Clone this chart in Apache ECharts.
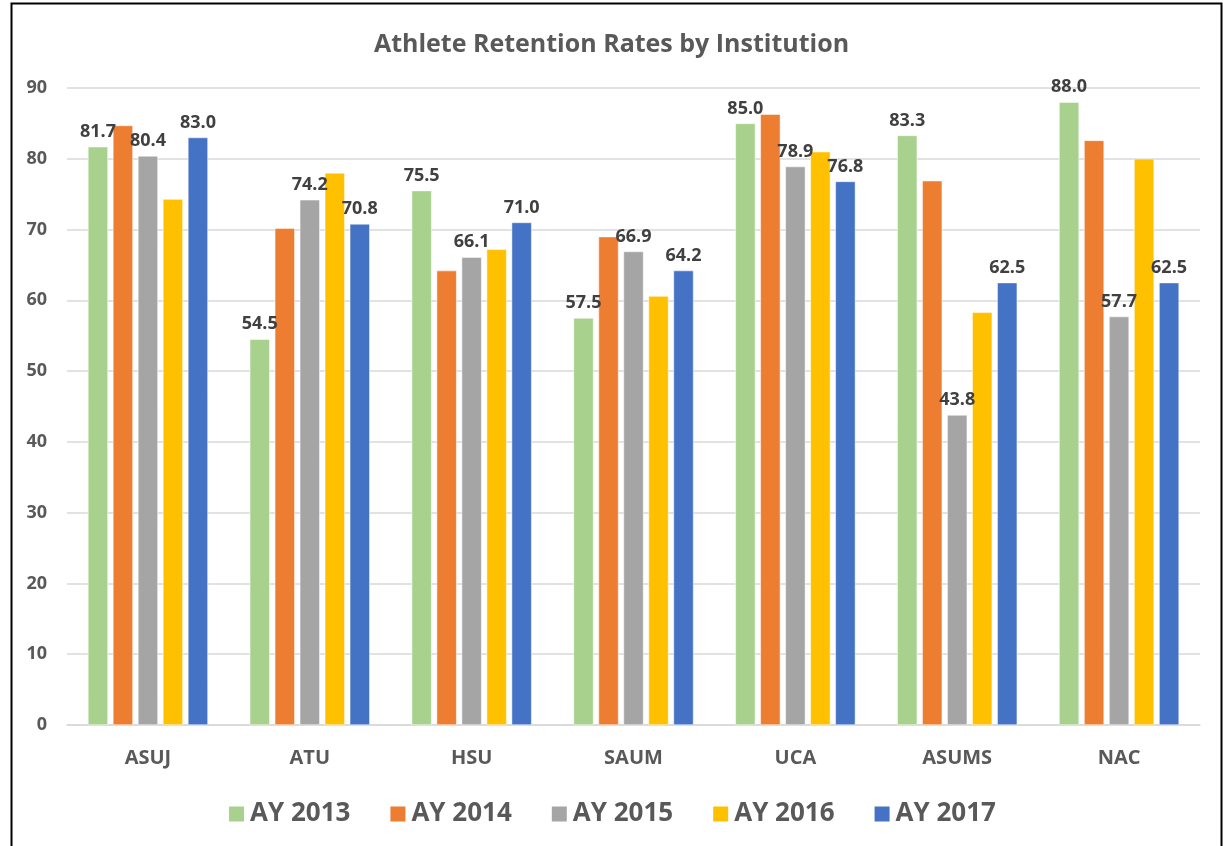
<!DOCTYPE html>
<html>
<head>
<meta charset="utf-8">
<script src="https://cdn.jsdelivr.net/npm/echarts@6/dist/echarts.min.js"></script>
<style>
html,body{margin:0;padding:0;background:#fff;}
#main{width:1223px;height:846px;}
</style>
</head>
<body>
<div id="main"></div>
<script>
// 数据
var institutions = ['ASUJ', 'ATU', 'HSU', 'SAUM', 'UCA', 'ASUMS', 'NAC'];
var seriesNames = ['AY 2013', 'AY 2014', 'AY 2015', 'AY 2016', 'AY 2017'];
var ay2013 = [81.7, 54.5, 75.5, 57.5, 85.0, 83.3, 88.0];
var ay2014 = [84.7, 70.2, 64.2, 69.0, 86.3, 76.9, 82.6];
var ay2015 = [80.4, 74.2, 66.1, 66.9, 78.9, 43.8, 57.7];
var ay2016 = [74.3, 78.0, 67.2, 60.6, 81.0, 58.3, 80.0];
var ay2017 = [83.0, 70.8, 71.0, 64.2, 76.8, 62.5, 62.5];
var yTicks = [0, 90, 10]; // min, max, interval

var colors = ['#A9D18E', '#ED7D31', '#A5A5A5', '#FFC000', '#4472C4'];
var allData = [ay2013, ay2014, ay2015, ay2016, ay2017];
var showLabel = [true, false, true, false, true];

var chart = echarts.init(document.getElementById('main'));

var series = [];
for (var i = 0; i < allData.length; i++) {
    series.push({
        name: seriesNames[i],
        type: 'bar',
        data: allData[i],
        barWidth: 20,
        barGap: '25%',
        itemStyle: {color: colors[i], borderColor: '#fff', borderWidth: 0.5},
        label: {
            show: showLabel[i],
            position: 'top',
            distance: 6,
            formatter: function (p) { return p.value.toFixed(1); },
            color: '#404040',
            fontSize: 18,
            fontWeight: 'bold',
            fontFamily: 'Open Sans'
        }
    });
}

chart.setOption({
    animation: false,
    color: colors,
    title: {
        text: 'Athlete Retention Rates by Institution',
        left: 'center',
        top: 27,
        textStyle: {color: '#595959', fontSize: 25, fontWeight: 'bold', fontFamily: 'Open Sans'}
    },
    legend: {
        data: seriesNames,
        bottom: 14,
        left: 'center',
        icon: 'rect',
        itemWidth: 17,
        itemHeight: 17,
        itemGap: 38,
        textStyle: {color: '#595959', fontSize: 26, fontWeight: 'bold', fontFamily: 'Open Sans'}
    },
    grid: {left: 67, right: 23, top: 88, bottom: 121},
    xAxis: {
        type: 'category',
        data: institutions,
        axisLine: {lineStyle: {color: '#d9d9d9', width: 1.5}},
        axisTick: {show: false},
        axisLabel: {color: '#595959', fontSize: 20, fontWeight: 'bold', fontFamily: 'Open Sans', margin: 23}
    },
    yAxis: {
        type: 'value',
        min: yTicks[0],
        max: yTicks[1],
        interval: yTicks[2],
        axisLine: {show: false},
        axisTick: {show: false},
        axisLabel: {color: '#595959', fontSize: 18, fontWeight: 'bold', fontFamily: 'Open Sans', margin: 20},
        splitLine: {lineStyle: {color: '#d9d9d9', width: 1.5}}
    },
    graphic: [{
        type: 'rect',
        left: 9,
        top: 1,
        shape: {width: 1210, height: 870},
        style: {fill: 'none', stroke: '#000', lineWidth: 2},
        silent: true
    }],
    series: series
});
</script>
</body>
</html>
